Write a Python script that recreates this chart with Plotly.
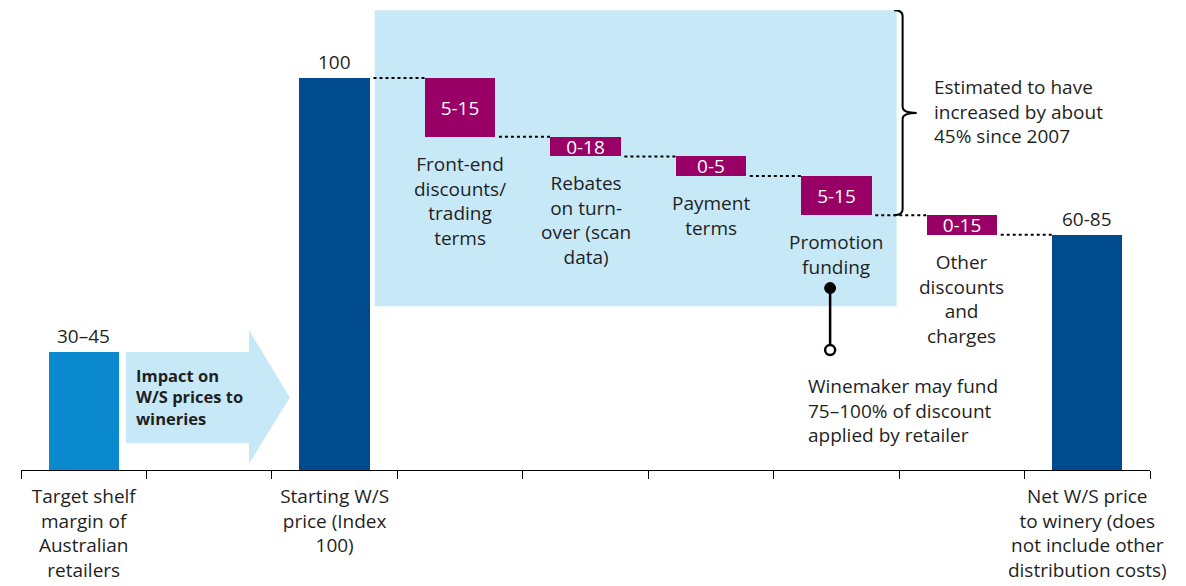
import plotly.graph_objects as go

# categorías del eje x (ids) y sus etiquetas
categorias = ["target", "arrow", "start", "front", "rebates", "payment", "promo", "other", "net"]
etiquetas_eje = [
    "Target shelf<br>margin of<br>Australian<br>retailers",
    "",
    "Starting W/S<br>price (Index<br>100)",
    "", "", "", "", "",
    "Net W/S price<br>to winery (does<br>not include other<br>distribution costs)",
]

# barras: base y altura (índice 100)
base = [0, None, 0, 85, 80, 75, 65, 60, 0]
altura = [30, None, 100, 15, 5, 5, 10, 5, 60]
texto_barra = ["", "", "", "5-15", "0-18", "0-5", "5-15", "0-15", ""]
texto_arriba = ["30–45", "", "100", "", "", "", "", "", "60-85"]
texto_abajo = [
    "", "", "",
    "Front-end<br>discounts/<br>trading<br>terms",
    "Rebates<br>on turn-<br>over (scan<br>data)",
    "Payment<br>terms",
    "Promotion<br>funding",
    "Other<br>discounts<br>and<br>charges",
    "",
]
tipo = ["margin", None, "total", "step", "step", "step", "step", "step", "total"]

COLORES = {"margin": "#0a89cf", "total": "#004b8d", "step": "#990066", None: "#ffffff"}
AZUL_CLARO = "#c7e8f7"
TXT = "#1f1f1f"
FAM = "Open Sans, sans-serif"
FONT = dict(family=FAM, size=19, color=TXT)
ANCHO = 0.56

fig = go.Figure(go.Bar(
    x=categorias,
    y=altura,
    base=base,
    width=ANCHO,
    marker=dict(color=[COLORES[t] for t in tipo], line=dict(width=0)),
    text=texto_barra,
    textposition="inside",
    insidetextanchor="middle",
    textfont=dict(family=FAM, size=19, color="white"),
    hoverinfo="skip",
))

# caja azul claro detrás de los descuentos
fig.add_shape(type="rect", xref="x", yref="y", x0=2.32, x1=6.48, y0=41.8, y1=117.3,
              fillcolor=AZUL_CLARO, line_width=0, layer="below")

# flecha "Impact on W/S prices"
fig.add_shape(type="path", xref="x", yref="y", layer="below",
              path="M 0.337,30.1 L 1.317,30.1 L 1.317,35.7 L 1.643,18.5 L 1.317,1.5 L 1.317,6.9 L 0.337,6.9 Z",
              fillcolor=AZUL_CLARO, line_width=0)
fig.add_annotation(x=0.40, y=18.7, xref="x", yref="y", xanchor="left", align="left",
                   text="<b>Impact on<br>W/S prices to<br>wineries</b>", showarrow=False,
                   font=dict(family=FAM, size=16.5, color=TXT))

# conectores punteados entre barras
for i in range(2, 8):
    nivel = base[i + 1] + altura[i + 1]
    fig.add_shape(type="line", xref="x", yref="y",
                  x0=i + ANCHO / 2 + 0.03, x1=i + 1 - ANCHO / 2, y0=nivel, y1=nivel,
                  line=dict(color="black", width=2, dash="dot"))

# etiquetas sobre/bajo las barras
for i, c in enumerate(categorias):
    if texto_arriba[i]:
        fig.add_annotation(x=c, y=base[i] + altura[i], yanchor="bottom", text=texto_arriba[i],
                           showarrow=False, font=FONT, yshift=1)
    if texto_abajo[i]:
        fig.add_annotation(x=c, y=base[i], yanchor="top", text=texto_abajo[i],
                           showarrow=False, font=FONT, yshift=-12)

# llave
fig.add_shape(type="path", xref="x", yref="y",
              path=("M 6.46,117.3 Q 6.528,117.3 6.528,115.8 L 6.528,92.6 "
                    "Q 6.528,91.1 6.64,91.1 Q 6.528,91.1 6.528,89.6 "
                    "L 6.528,66.5 Q 6.528,65 6.46,65"),
              line=dict(color="black", width=2))
fig.add_annotation(x=6.76, y=91.5, xref="x", yref="y", xanchor="left", align="left",
                   text="Estimated to have<br>increased by about<br>45% since 2007",
                   showarrow=False, font=FONT)

# nota de financiamiento del bodeguero
fig.add_shape(type="line", xref="x", yref="y", x0=5.95, x1=5.95, y0=46.4, y1=30.6,
              line=dict(color="black", width=2.5))
fig.add_shape(type="circle", xref="x", yref="y", xsizemode="pixel", ysizemode="pixel",
              xanchor=5.95, yanchor=46.4, x0=-5, x1=5, y0=-5, y1=5,
              fillcolor="black", line=dict(color="black", width=2))
fig.add_shape(type="circle", xref="x", yref="y", xsizemode="pixel", ysizemode="pixel",
              xanchor=5.95, yanchor=30.6, x0=-5, x1=5, y0=-5, y1=5,
              fillcolor="white", line=dict(color="black", width=2.5))
fig.add_annotation(x=5.755, y=15.2, xref="x", yref="y", xanchor="left", align="left",
                   text="Winemaker may fund<br>75–100% of discount<br>applied by retailer",
                   showarrow=False, font=FONT)

fig.update_layout(
    width=1186, height=586,
    paper_bgcolor="white", plot_bgcolor="white",
    font=FONT,
    showlegend=False,
    bargap=0,
    uniformtext=dict(minsize=19, mode="show"),
    margin=dict(l=21, r=36, t=10, b=116),
    xaxis=dict(
        type="category",
        tickmode="array", tickvals=categorias, ticktext=etiquetas_eje,
        tickson="boundaries", ticks="outside", ticklen=8, tickcolor="black", tickwidth=1,
        tickangle=0, automargin=False, ticklabelstandoff=9,
        showline=True, linecolor="black", linewidth=1,
        showgrid=False, zeroline=False,
        tickfont=dict(family=FAM, size=19, color=TXT),
    ),
    yaxis=dict(range=[0, 117.35], visible=False, showgrid=False, automargin=False),
)

fig.write_html("out.html", config={"displayModeBar": False},
               post_script="document.body.style.margin='0';")
